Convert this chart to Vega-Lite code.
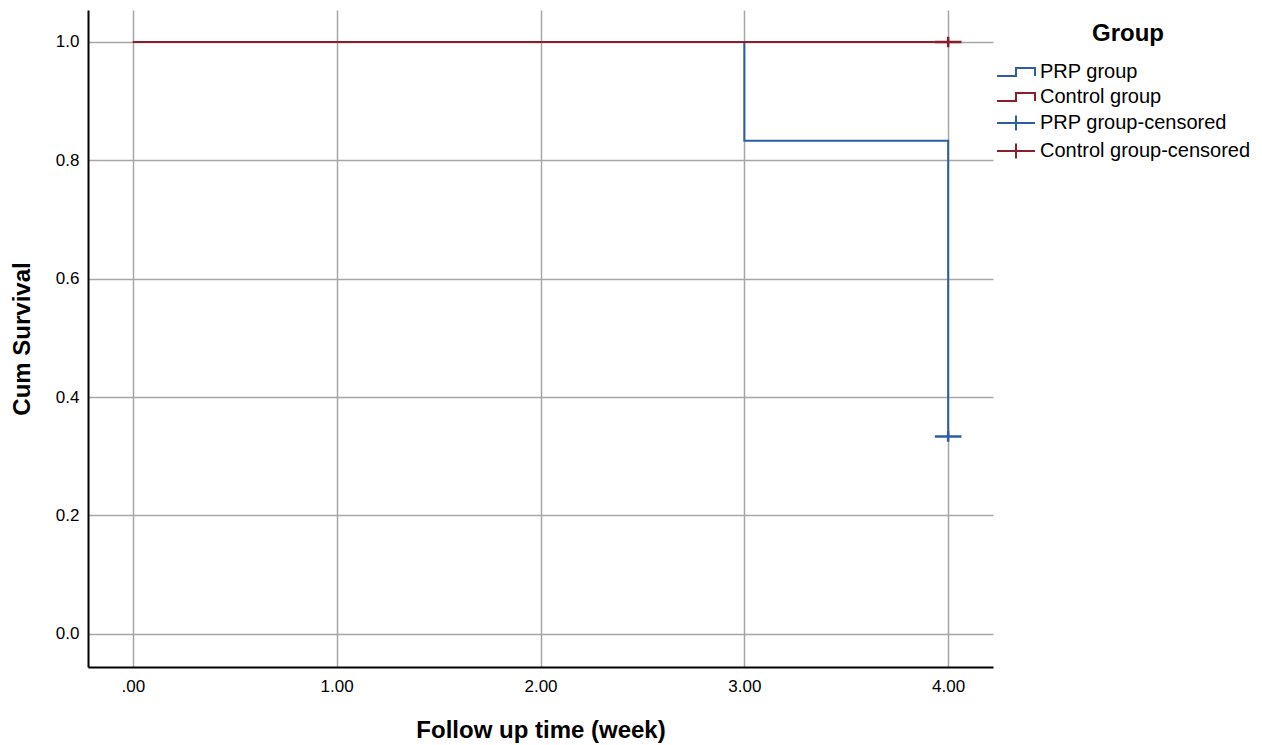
{
  "$schema": "https://vega.github.io/schema/vega-lite/v6.json",
  "width": 905,
  "height": 657,
  "autosize": {"type": "none"},
  "padding": {"left": 88, "top": 10, "right": 269, "bottom": 78},
  "background": "white",
  "config": {
    "font": "Liberation Sans",
    "view": {"stroke": null},
    "axis": {
      "ticks": false,
      "domainColor": "black",
      "domainWidth": 2,
      "gridColor": "#a6a6a6",
      "gridWidth": 1.5,
      "labelFontSize": 17,
      "labelColor": "black",
      "titleFontSize": 24,
      "titleFontWeight": "bold",
      "titleColor": "black"
    }
  },
  "encoding": {
    "x": {
      "field": "time",
      "type": "quantitative",
      "scale": {"domain": [-0.22, 4.22], "nice": false, "zero": false},
      "axis": {
        "title": "Follow up time (week)",
        "values": [0, 1, 2, 3, 4],
        "labelExpr": "datum.value == 0 ? '.00' : format(datum.value, '.2f')",
        "labelFlush": false,
        "labelFontSize": 17,
        "labelPadding": 11,
        "titlePadding": 24
      }
    },
    "y": {
      "field": "survival",
      "type": "quantitative",
      "scale": {"domain": [-0.056, 1.054], "nice": false, "zero": false},
      "axis": {
        "title": "Cum Survival",
        "values": [0, 0.2, 0.4, 0.6, 0.8, 1],
        "format": ".1f",
        "labelFontSize": 17,
        "labelPadding": 9,
        "titlePadding": 21
      }
    },
    "color": {
      "field": "Group",
      "type": "nominal",
      "scale": {
        "domain": ["PRP group", "Control group", "PRP group-censored", "Control group-censored"],
        "range": ["#2d5da3", "#8c1d2c", "#2d5da3", "#8c1d2c"]
      },
      "legend": {
        "title": "Group",
        "orient": "none",
        "legendX": 917,
        "legendY": 12,
        "padding": 0,
        "titleFontSize": 24,
        "titleFontWeight": "bold",
        "titleColor": "black",
        "titleAnchor": "middle",
        "titlePadding": 15,
        "labelFontSize": 20,
        "labelColor": "black",
        "labelOffset": 13,
        "labelLimit": 400,
        "symbolSize": 400,
        "symbolStrokeWidth": 2,
        "rowPadding": 4
      }
    }
  },
  "layer": [
    {
      "data": {"values": [
        {"time": 0, "survival": 1, "Group": "PRP group"},
        {"time": 3, "survival": 0.8333, "Group": "PRP group"},
        {"time": 4, "survival": 0.3333, "Group": "PRP group"}
      ]},
      "mark": {"type": "line", "interpolate": "step-after", "strokeWidth": 2}
    },
    {
      "data": {"values": [
        {"time": 0, "survival": 1, "Group": "Control group"},
        {"time": 4, "survival": 1, "Group": "Control group"}
      ]},
      "mark": {"type": "line", "interpolate": "step-after", "strokeWidth": 2}
    },
    {
      "data": {"values": [
        {"time": 4, "survival": 0.3333, "Group": "PRP group-censored"},
        {"time": 4, "survival": 1, "Group": "Control group-censored"}
      ]},
      "mark": {"type": "point", "filled": false, "strokeWidth": 2.5, "size": 196, "opacity": 1},
      "encoding": {
        "shape": {
          "field": "Group",
          "type": "nominal",
          "scale": {
            "domain": ["PRP group", "Control group", "PRP group-censored", "Control group-censored"],
            "range": ["M-1.9,0.4H0V-0.4H1.9V0.4", "M-1.9,0.4H0V-0.4H1.9V0.4", "M-1.9,0H1.9M0,-0.75V0.75", "M-1.9,0H1.9M0,-0.75V0.75"]
          },
          "legend": {
            "title": "Group",
            "orient": "none",
            "legendX": 917,
            "legendY": 12,
            "padding": 0,
            "titleFontSize": 24,
            "titleFontWeight": "bold",
            "titleColor": "black",
            "titleAnchor": "middle",
            "titlePadding": 15,
            "labelFontSize": 20,
            "labelColor": "black",
            "labelOffset": 13,
            "labelLimit": 400,
            "symbolSize": 400,
            "symbolStrokeWidth": 2,
            "rowPadding": 4
          }
        }
      }
    }
  ]
}
